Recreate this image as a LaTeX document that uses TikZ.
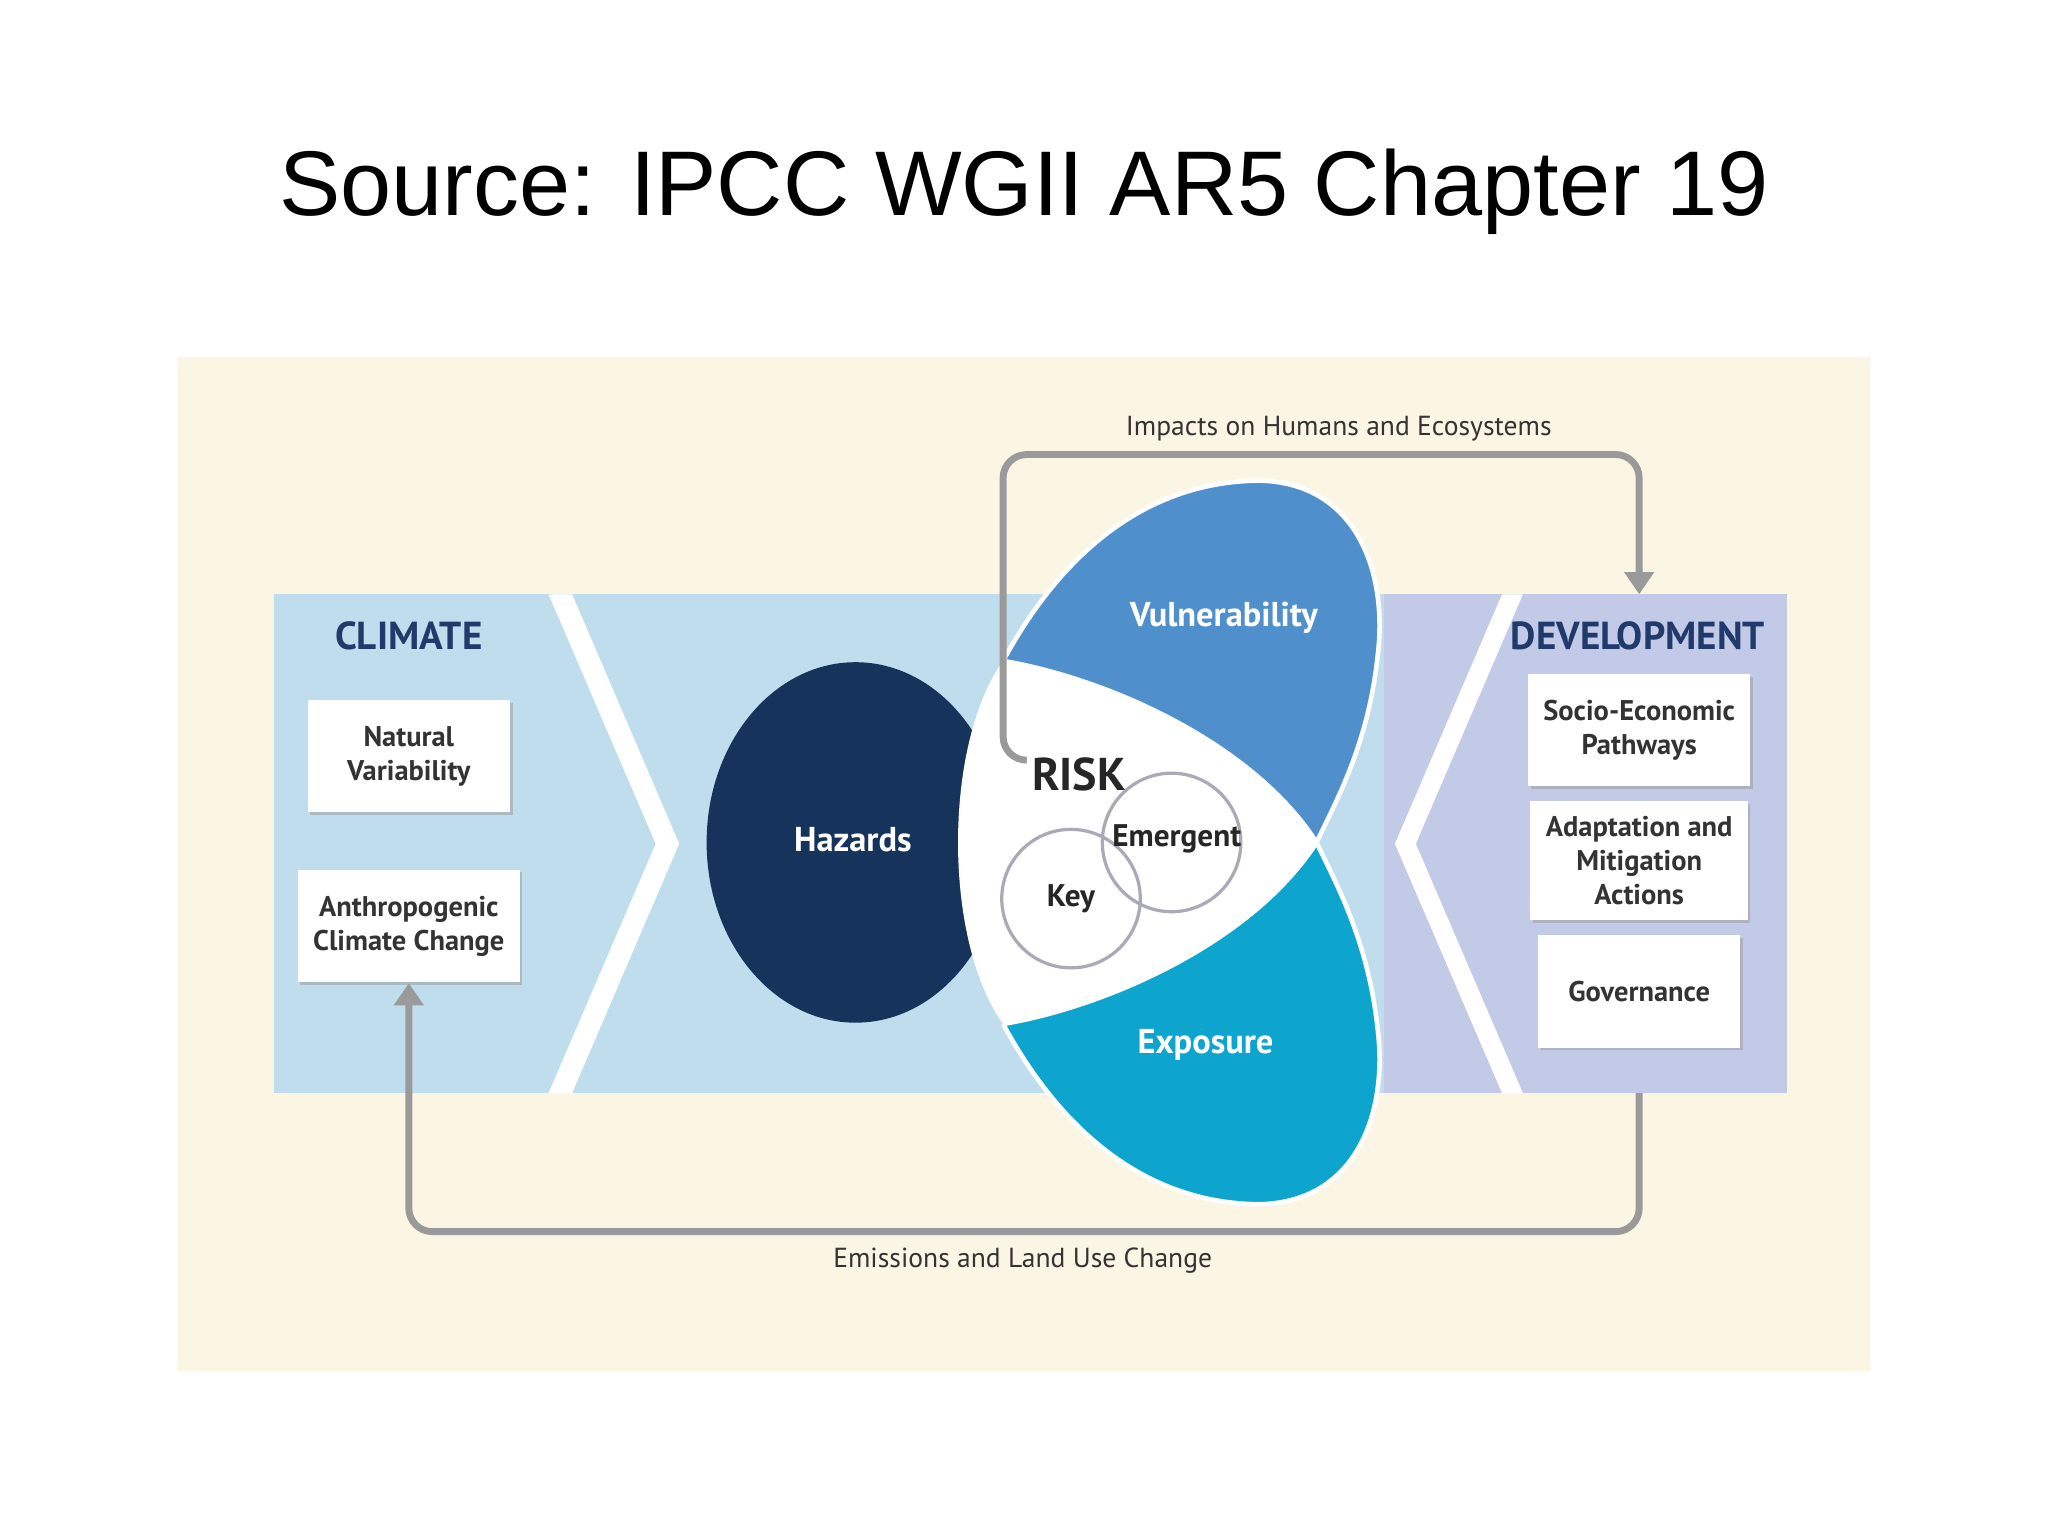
\documentclass[tikz,border=0pt]{standalone}
\usepackage{fontspec}
\setmainfont{PT Sans}
\newfontfamily\titlefont{Liberation Sans}
\usetikzlibrary{arrows.meta,shadows}
\definecolor{cream}{HTML}{FBF5E4}
\definecolor{bandblue}{HTML}{BFDDEC}
\definecolor{bandlav}{HTML}{C3CAE8}
\definecolor{navy}{HTML}{16335B}
\definecolor{vulblue}{HTML}{4F8FCB}
\definecolor{expblue}{HTML}{0DA5CE}
\definecolor{headblue}{HTML}{1F3A6B}
\definecolor{arrowgray}{HTML}{9A9A9A}
\definecolor{ringgray}{HTML}{A9A9B8}
\tikzset{
  factor/.style={draw=none, fill=white, minimum width=1.55cm, minimum height=0.86cm, align=center,
    font=\fontsize{6.2pt}{7.4pt}\selectfont\bfseries, text=black!80,
    drop shadow={shadow xshift=0.02cm, shadow yshift=-0.02cm, fill=black!40, opacity=0.5}},
  head/.style={font=\fontsize{8.5pt}{10pt}\selectfont\bfseries, text=headblue},
  petal/.style={font=\fontsize{7.5pt}{9pt}\selectfont\bfseries, text=white},
  ring/.style={draw=ringgray, line width=0.7pt, circle, minimum size=1.06cm, inner sep=0pt},
  loop/.style={draw=arrowgray, line width=1.5pt, rounded corners=0.18cm,
    -{Triangle[width=0.22cm,length=0.17cm]}},
  looplabel/.style={font=\fontsize{6pt}{7pt}\selectfont, text=black!80}
}
\begin{document}
\begin{tikzpicture}[x=0.01cm, y=-0.01cm]
\useasboundingbox (0,0) rectangle (1568,1176);
\fill[white] (0,0) rectangle (1568,1176);
\node[font=\titlefont\fontsize{20pt}{24pt}\selectfont] (title) at (784,147) {Source: IPCC WGII AR5 Chapter 19};
%background and bands
\fill[cream] (136,273) rectangle (1432,1050);
\fill[bandblue] (210,455) rectangle (1060,837);
\fill[bandlav] (1060,455) rectangle (1368,837);
\fill[white] (420,455) -- (438,455) -- (520,646) -- (438,837) -- (420,837) -- (502,646) -- cycle;
\fill[white] (1150,455) -- (1166,455) -- (1084,646) -- (1166,837) -- (1150,837) -- (1068,646) -- cycle;
%risk coordinates
\coordinate (ra) at (768,506); \coordinate (rb) at (1008,645); \coordinate (rc) at (768,784);
%hazards, vulnerability, exposure
\fill[navy] (655,645) ellipse [x radius=114, y radius=138];
\fill[vulblue, draw=white, line width=1pt] (ra) .. controls (820,410) and (890,368) .. (965,368)
  .. controls (1040,370) and (1062,440) .. (1055,500) .. controls (1048,570) and (1022,615) .. (rb)
  .. controls (960,570) and (850,520) .. (ra);
\fill[expblue, draw=white, line width=1pt] (rc) .. controls (820,880) and (890,922) .. (965,922)
  .. controls (1040,920) and (1062,850) .. (1055,790) .. controls (1048,720) and (1022,675) .. (rb)
  .. controls (960,720) and (850,770) .. (rc);
\fill[white] (ra) .. controls (850,520) and (960,570) .. (rb) .. controls (960,720) and (850,770) .. (rc)
  .. controls (722,720) and (722,570) .. (ra);
\node[ring] (emergent) at (897,645) {};
\node[ring] (key) at (820,688) {};
\node[font=\fontsize{6.8pt}{8pt}\selectfont\bfseries, text=black!85] at (901,642) {Emergent};
\node[font=\fontsize{6.8pt}{8pt}\selectfont\bfseries, text=black!85] at (820,688) {Key};
\node[font=\fontsize{10pt}{12pt}\selectfont\bfseries, text=black!85] (risk) at (826,593) {RISK};
\node[petal] (hazards) at (653,643) {Hazards};
\node[petal] (vulnerability) at (937,473) {Vulnerability};
\node[petal] (exposure) at (923,800) {Exposure};
%climate and development
\node[head] (climate) at (313,487) {CLIMATE};
\node[factor] (natural) at (313,579) {Natural\\Variability};
\node[factor] (anth) at (313,709) {Anthropogenic\\Climate Change};
\node[head] (development) at (1254,487) {DEVELOPMENT};
\node[factor] (socio) at (1255,559) {Socio-Economic\\Pathways};
\node[factor] (adapt) at (1255,659) {Adaptation and\\Mitigation\\Actions};
\node[factor] (gov) at (1255,759) {Governance};
%loops
\coordinate (impstart) at (786,582); \coordinate (impend) at (1255,455);
\coordinate (emstart) at (1255,837);
\draw[loop] (impstart) -- (768,582) -- (768,348) -- (1255,348) -- (impend);
\draw[loop] (emstart) -- (1255,943) -- (313,943) -- (anth.south);
\node[looplabel] (impacts) at (1025,328) {Impacts on Humans and Ecosystems};
\node[looplabel] (emissions) at (783,965) {Emissions and Land Use Change};
\end{tikzpicture}
\end{document}
